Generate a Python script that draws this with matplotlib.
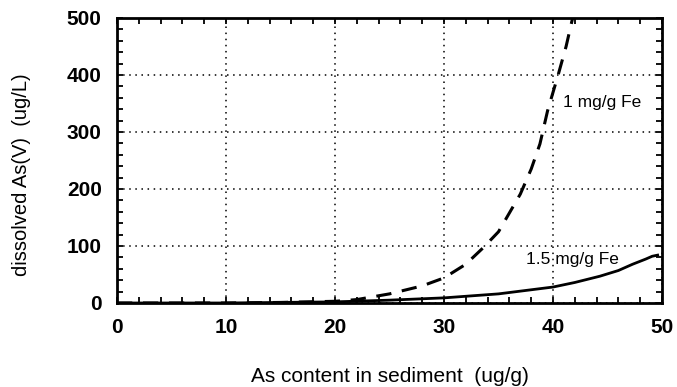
import numpy as np
import matplotlib.pyplot as plt
from matplotlib.ticker import MultipleLocator

plt.rcParams['font.family'] = ['Liberation Sans', 'DejaVu Sans']

# curve readings from the figure
x_1fe = [0, 10, 15, 20, 22, 25, 28, 30, 32, 33.6, 35, 37.0, 38.0, 38.8, 39.5, 40.5, 41.2, 41.8]
y_1fe = [0, 0, 1, 3, 6, 16, 30, 44, 68, 97, 125, 191, 235, 279, 337, 402, 450, 500]

x_15fe = [0, 10, 20, 25, 30, 35, 40, 42, 44.3, 46, 47.3, 48.5, 49.1, 49.6]
y_15fe = [0, 0, 2, 5, 9, 16, 28, 36, 47, 57, 68, 77, 82, 84]

xticks = [0, 10, 20, 30, 40, 50]
yticks = [0, 100, 200, 300, 400, 500]

W, H = 677, 387
fig = plt.figure(figsize=(W / 100, H / 100), dpi=100)
ax = fig.add_axes([117 / W, 1 - 303 / H, 545 / W, 285 / H])

ax.plot(x_1fe, y_1fe, color='black', lw=2.2, linestyle=(0, (5, 3.5)))
ax.plot(x_15fe, y_15fe, color='black', lw=2)

ax.text(40.9, 352, '1 mg/g Fe', fontsize=12.5, va='center', ha='left')
ax.text(37.5, 77, '1.5 mg/g Fe', fontsize=12.5, va='center', ha='left')

ax.set_xlim(0, 50)
ax.set_ylim(0, 500)
ax.set_xticks(xticks)
ax.set_yticks(yticks)
ax.xaxis.set_minor_locator(MultipleLocator(2))
ax.yaxis.set_minor_locator(MultipleLocator(20))
ax.tick_params(which='both', direction='in', top=True, right=True, length=4, width=1.3)
ax.tick_params(which='major', labelsize=15, pad=11)
for lab in ax.get_xticklabels() + ax.get_yticklabels():
    lab.set_fontweight('bold')

ax.grid(True, which='major', color='black', linestyle=(0, (1, 3)), lw=1.1)
for sp in ax.spines.values():
    sp.set_linewidth(2)

ax.set_xlabel('As content in sediment  (ug/g)', fontsize=15, va='center')
ax.xaxis.set_label_coords(0.5, (303 - 376) / 285)
ax.set_ylabel('dissolved As(V)  (ug/L)', fontsize=14.5, va='center')
ax.yaxis.set_label_coords((22 - 117) / 545, (303 - 175) / 285)

fig.savefig('out.png', dpi=100)
